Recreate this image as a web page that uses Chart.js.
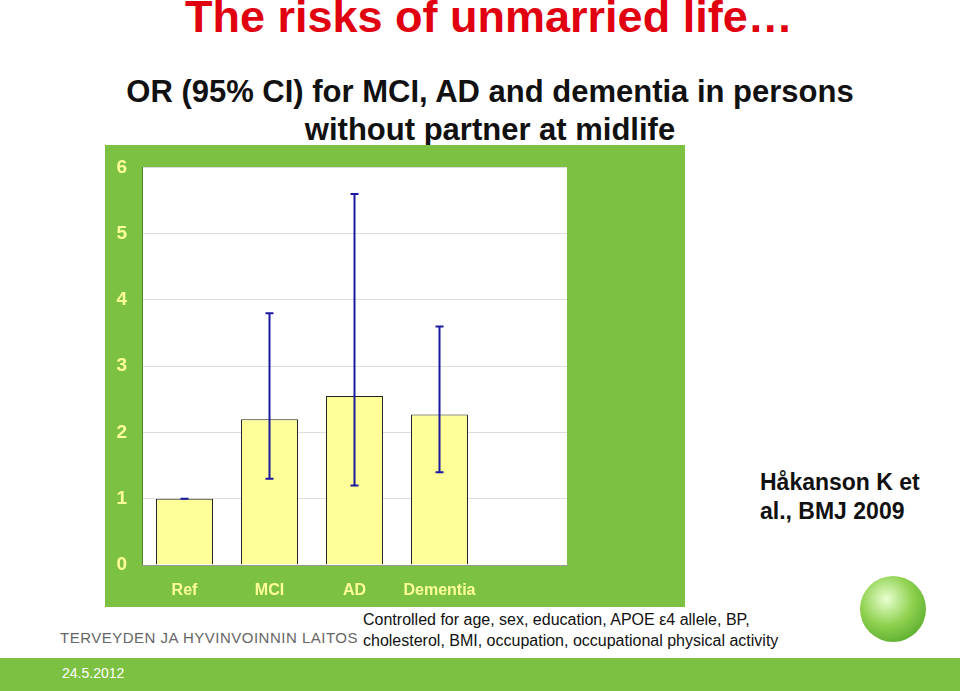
<!DOCTYPE html>
<html><head><meta charset="utf-8">
<script src="https://cdn.jsdelivr.net/npm/chart.js@4"></script>
<style>
body{margin:0;width:960px;height:691px;position:relative;background:#fff;font-family:"Liberation Sans",Arial,sans-serif;overflow:hidden}
.t{position:absolute;white-space:nowrap}
#panel{position:absolute;left:105px;top:145px;width:580px;height:462px;background:#7DC142}
#c{position:absolute;left:0;top:-4px}
</style></head><body>
<div class="t" style="left:185px;top:-9px;font-size:45px;font-weight:bold;color:#E0000F">The risks of unmarried life…</div>
<div class="t" style="left:0;width:980px;text-align:center;top:73px;font-size:31px;font-weight:bold;color:#111;line-height:38px">OR (95% CI) for MCI, AD and dementia in persons<br>without partner at midlife</div>
<div id="panel"><canvas id="c" width="580" height="466"></canvas></div>
<div class="t" style="left:760px;top:468px;font-size:23px;font-weight:bold;line-height:29px;color:#111">Håkanson K et<br>al., BMJ 2009</div>
<div class="t" style="left:363px;top:609px;font-size:16px;line-height:21px;color:#111">Controlled for age, sex, education, APOE ε4 allele, BP,<br>cholesterol, BMI, occupation, occupational physical activity</div>
<div class="t" style="left:60px;top:629px;font-size:15px;letter-spacing:0.5px;color:#666">TERVEYDEN JA HYVINVOINNIN LAITOS</div>
<div style="position:absolute;left:0;top:658px;width:960px;height:33px;background:#7DC142"></div>
<div class="t" style="left:62px;top:665px;font-size:14px;color:#fff">24.5.2012</div>
<div style="position:absolute;left:860px;top:576px;width:66px;height:66px;border-radius:50%;background:radial-gradient(circle at 40% 35%,#e8ffd0,#8fd14f 45%,#3f9a1e)"></div>
<script>
const categories=["Ref","MCI","AD","Dementia",""];
const orValues=[1.0,2.2,2.55,2.27,null];
const ciLower=[1.0,1.3,1.2,1.4,null];
const ciUpper=[1.0,3.8,5.6,3.6,null];
const yTicks=[0,1,2,3,4,5,6];
const errPlugin={id:"err",afterDatasetsDraw(ch){
 const ctx=ch.ctx,x=ch.scales.x,y=ch.scales.y;
 ctx.save();ctx.strokeStyle="#1a1aa0";ctx.lineWidth=2;
 categories.forEach((c,i)=>{if(ciLower[i]==null)return;
  const px=x.getPixelForValue(i),y1=y.getPixelForValue(ciLower[i]),y2=y.getPixelForValue(ciUpper[i]);
  ctx.beginPath();ctx.moveTo(px,y1);ctx.lineTo(px,y2);
  ctx.moveTo(px-4,y1);ctx.lineTo(px+4,y1);ctx.moveTo(px-4,y2);ctx.lineTo(px+4,y2);ctx.stroke();});
 ctx.restore();}};
const bgPlugin={id:"bg",beforeDraw(ch){const a=ch.chartArea,ctx=ch.ctx;ctx.save();ctx.fillStyle="#fff";ctx.fillRect(a.left,a.top,a.right-a.left,a.bottom-a.top);ctx.restore();}};
new Chart(document.getElementById("c"),{type:"bar",
 data:{labels:categories,datasets:[{data:orValues,backgroundColor:"#FFFF99",borderColor:"#222",borderWidth:1,categoryPercentage:0.67,barPercentage:1}]},
 options:{responsive:false,animation:false,layout:{padding:{top:18,right:118,left:0,bottom:0}},
  plugins:{legend:{display:false},tooltip:{enabled:false}},
  scales:{
   y:{min:0,max:6,afterFit(s){s.width=37},afterBuildTicks(s){s.ticks=yTicks.map(v=>({value:v}))},
     ticks:{color:"#FFFF99",font:{size:19,weight:"bold",family:"Liberation Sans"},padding:15},
     grid:{color:"#ddd",drawTicks:false},border:{color:"#4a8a2a"}},
   x:{afterFit(s){s.height=42},ticks:{color:"#FFFF99",font:{size:16,weight:"bold",family:"Liberation Sans"},padding:16},
     grid:{display:false,drawTicks:false},border:{color:"#999"}}}},
 plugins:[bgPlugin,errPlugin]});
</script></body></html>
